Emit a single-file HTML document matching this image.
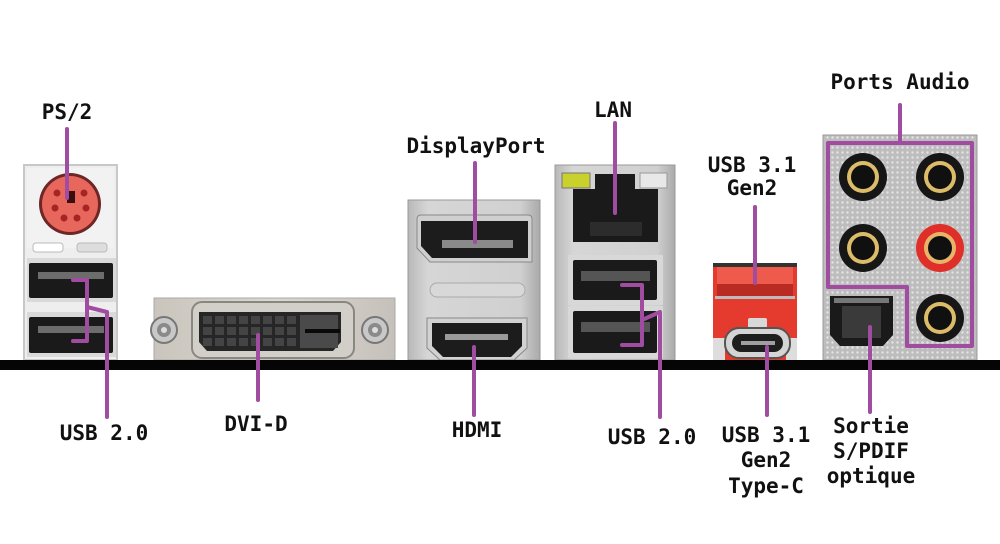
<!DOCTYPE html>
<html><head><meta charset="utf-8"><style>
html,body{margin:0;padding:0;background:#fff;}
svg{display:block;}
text{font-family:"DejaVu Sans Mono","Liberation Mono",monospace;font-weight:bold;font-size:21px;fill:#111;}
</style></head><body>
<svg width="1000" height="544" viewBox="0 0 1000 544" xmlns="http://www.w3.org/2000/svg">
<defs>
<linearGradient id="metal" x1="0" y1="0" x2="1" y2="0">
<stop offset="0" stop-color="#b8b8b8"/><stop offset="0.15" stop-color="#d6d6d6"/><stop offset="0.85" stop-color="#d0d0d0"/><stop offset="1" stop-color="#aaaaaa"/>
</linearGradient>
<linearGradient id="metal2" x1="0" y1="0" x2="1" y2="0">
<stop offset="0" stop-color="#c9c5bd"/><stop offset="0.5" stop-color="#dcd8d1"/><stop offset="1" stop-color="#c5c1ba"/>
</linearGradient>
<pattern id="perf" width="5" height="5" patternUnits="userSpaceOnUse">
<rect width="5" height="5" fill="#bdbdbd"/><circle cx="2.5" cy="2.5" r="1.2" fill="#e4e4e4"/>
</pattern>
</defs>

<!-- PS/2 + USB plate -->
<rect x="24" y="165" width="93" height="195" fill="#eeeeee" stroke="#c8c8c8" stroke-width="2"/>
<rect x="27" y="168" width="87" height="80" fill="#f2f2f2"/>
<circle cx="70" cy="204" r="31" fill="#6e2626"/>
<circle cx="70" cy="204" r="28" fill="#e8675d"/>
<g fill="#a82424">
<circle cx="57" cy="193" r="3.5"/><circle cx="84" cy="193" r="3.5"/>
<circle cx="55" cy="208" r="3.5"/><circle cx="86" cy="208" r="3.5"/>
<circle cx="64" cy="218" r="3.5"/><circle cx="77" cy="218" r="3.5"/>
</g>
<rect x="67" y="191" width="8" height="12" fill="#3a0e0e"/>
<rect x="33" y="243" width="30" height="9" rx="3" fill="#ffffff" stroke="#bbb"/>
<rect x="77" y="243" width="30" height="9" rx="3" fill="#dddddd" stroke="#bbb"/>
<rect x="27" y="258" width="89" height="44" fill="#d9d9d9"/>
<rect x="29" y="263" width="84" height="35" rx="2" fill="#1a1a1a"/>
<rect x="38" y="272" width="66" height="7" fill="#6c6c6c"/>
<rect x="27" y="312" width="89" height="45" fill="#d9d9d9"/>
<rect x="29" y="317" width="84" height="36" rx="2" fill="#1a1a1a"/>
<rect x="38" y="326" width="66" height="7" fill="#6c6c6c"/>

<!-- DVI -->
<rect x="154" y="298" width="241" height="62" fill="url(#metal2)" stroke="#aaa"/>
<circle cx="164" cy="330" r="13" fill="#c8c8c8" stroke="#777" stroke-width="2"/>
<circle cx="164" cy="330" r="7" fill="#8a8a8a"/><circle cx="164" cy="330" r="3" fill="#ddd"/>
<circle cx="375" cy="330" r="13" fill="#c8c8c8" stroke="#777" stroke-width="2"/>
<circle cx="375" cy="330" r="7" fill="#8a8a8a"/><circle cx="375" cy="330" r="3" fill="#ddd"/>
<rect x="192" y="302" width="162" height="56" rx="10" fill="#d2cec8" stroke="#8a8680" stroke-width="2"/>
<path d="M199 312 L341 312 L341 342 L333 351 L207 351 L199 342 Z" fill="#262626"/>
<g fill="#444">
<rect x="203" y="316" width="9" height="8"/><rect x="215" y="316" width="9" height="8"/><rect x="227" y="316" width="9" height="8"/><rect x="239" y="316" width="9" height="8"/><rect x="251" y="316" width="9" height="8"/><rect x="263" y="316" width="9" height="8"/><rect x="275" y="316" width="9" height="8"/><rect x="287" y="316" width="9" height="8"/>
<rect x="203" y="327" width="9" height="8"/><rect x="215" y="327" width="9" height="8"/><rect x="227" y="327" width="9" height="8"/><rect x="239" y="327" width="9" height="8"/><rect x="251" y="327" width="9" height="8"/><rect x="263" y="327" width="9" height="8"/><rect x="275" y="327" width="9" height="8"/><rect x="287" y="327" width="9" height="8"/>
<rect x="203" y="338" width="9" height="8"/><rect x="215" y="338" width="9" height="8"/><rect x="227" y="338" width="9" height="8"/><rect x="239" y="338" width="9" height="8"/><rect x="251" y="338" width="9" height="8"/><rect x="263" y="338" width="9" height="8"/><rect x="275" y="338" width="9" height="8"/><rect x="287" y="338" width="9" height="8"/>
</g>
<rect x="300" y="315" width="38" height="33" fill="#4a4a4a"/>
<rect x="305" y="329" width="35" height="4" fill="#0a0a0a"/>

<!-- DP / HDMI -->
<rect x="408" y="200" width="132" height="160" fill="url(#metal)" stroke="#999"/>
<path d="M417 219 Q417 215 421 215 L528 215 Q532 215 532 219 L532 262 L430 262 L417 248 Z" fill="#cfcfcf" stroke="#888"/>
<path d="M421 221 L528 221 L528 258 L432 258 L421 246 Z" fill="#1c1c1c"/>
<rect x="442" y="240" width="71" height="8" fill="#8a8a8a"/>
<rect x="430" y="283" width="95" height="14" rx="7" fill="#d8d8d8" stroke="#aaa"/>
<path d="M427 318 L527 318 L527 348 L514 360 L440 360 L427 348 Z" fill="#d2d2d2" stroke="#888"/>
<path d="M432 323 L522 323 L522 346 L511 357 L443 357 L432 346 Z" fill="#1c1c1c"/>
<rect x="445" y="334" width="63" height="6" fill="#9a9a9a"/>

<!-- LAN + USB -->
<rect x="555" y="165" width="120" height="195" fill="url(#metal)" stroke="#999"/>
<rect x="562" y="173" width="28" height="15" fill="#c9d22c" stroke="#777"/>
<rect x="640" y="173" width="27" height="15" fill="#e8e8e8" stroke="#999"/>
<path d="M573 189 L595 189 L595 174 L635 174 L635 189 L658 189 L658 242 L573 242 Z" fill="#1a1a1a"/>
<rect x="590" y="222" width="52" height="14" fill="#2c2c2c"/>
<rect x="568" y="255" width="95" height="50" fill="#d8d8d8"/>
<rect x="573" y="260" width="84" height="40" rx="2" fill="#1a1a1a"/>
<rect x="581" y="271" width="69" height="10" fill="#555"/>
<rect x="568" y="306" width="95" height="52" fill="#d8d8d8"/>
<rect x="573" y="311" width="84" height="42" rx="2" fill="#1a1a1a"/>
<rect x="581" y="322" width="69" height="10" fill="#555"/>

<!-- USB 3.1 red -->
<rect x="713" y="263" width="84" height="97" fill="#e53a2e"/>
<rect x="713" y="263" width="84" height="4" fill="#333"/>
<rect x="717" y="267" width="76" height="17" fill="#ee5a4c"/>
<rect x="717" y="284" width="76" height="12" fill="#b82a22"/>
<rect x="715" y="296" width="80" height="3" fill="#bbb"/>
<rect x="748" y="318" width="19" height="10" rx="2" fill="#d8d8d8"/>
<rect x="713" y="338" width="12" height="22" fill="#dddddd"/>
<rect x="786" y="338" width="11" height="22" fill="#dddddd"/>
<rect x="725" y="328" width="65" height="30" rx="14" fill="#d4d4d4" stroke="#555" stroke-width="2"/>
<rect x="732" y="334" width="51" height="18" rx="9" fill="#1e1e1e"/>
<rect x="741" y="341" width="34" height="4" fill="#a0a0a0"/>

<!-- Audio -->
<rect x="823" y="135" width="154" height="225" fill="url(#perf)" stroke="#999"/>
<g>
<circle cx="863" cy="177" r="24" fill="#161616"/><circle cx="863" cy="177" r="16" fill="#dcbc68"/><circle cx="863" cy="177" r="12" fill="#101010"/>
<circle cx="940" cy="177" r="24" fill="#161616"/><circle cx="940" cy="177" r="16" fill="#dcbc68"/><circle cx="940" cy="177" r="12" fill="#101010"/>
<circle cx="863" cy="248" r="24" fill="#161616"/><circle cx="863" cy="248" r="16" fill="#dcbc68"/><circle cx="863" cy="248" r="12" fill="#101010"/>
<circle cx="940" cy="248" r="24" fill="#e02e28"/><circle cx="940" cy="248" r="16" fill="#e8b46a"/><circle cx="940" cy="248" r="12" fill="#101010"/>
<circle cx="940" cy="318" r="24" fill="#161616"/><circle cx="940" cy="318" r="16" fill="#dcbc68"/><circle cx="940" cy="318" r="12" fill="#101010"/>
</g>
<path d="M830 296 L893 296 L893 335 L883 346 L840 346 L830 335 Z" fill="#1a1a1a"/>
<rect x="834" y="298" width="55" height="5" fill="#777"/>
<path d="M842 306 L881 306 L881 338 L842 338 Z" fill="#3a3a3a"/>

<!-- black bar -->
<rect x="0" y="360" width="1000" height="10" fill="#050505"/>

<!-- purple leader lines -->
<g stroke="#a04ca0" stroke-width="4" fill="none" stroke-linecap="round" stroke-linejoin="round">
<line x1="67" y1="129" x2="67" y2="198"/>
<polyline points="73,280 87,280 87,341 73,341"/>
<polyline points="87,307 107,312 107,417"/>
<line x1="258" y1="335" x2="258" y2="400"/>
<line x1="475" y1="163" x2="475" y2="242"/>
<line x1="474" y1="347" x2="474" y2="415"/>
<line x1="615" y1="123" x2="615" y2="213"/>
<polyline points="622,285 642,285 642,345 622,345"/>
<polyline points="642,320 660,312 660,417"/>
<line x1="755" y1="207" x2="755" y2="283"/>
<line x1="767" y1="347" x2="767" y2="415"/>
<line x1="900" y1="105" x2="900" y2="143"/>
<polygon points="828,143 972,143 972,346 907,346 907,287 828,287"/>
<line x1="870" y1="327" x2="870" y2="412"/>
</g>

<!-- labels -->
<g text-anchor="middle">
<text x="67" y="119">PS/2</text>
<text x="104" y="440">USB 2.0</text>
<text x="256" y="431">DVI-D</text>
<text x="477" y="437">HDMI</text>
<text x="476" y="153">DisplayPort</text>
<text x="613" y="117">LAN</text>
<text x="752" y="172">USB 3.1</text>
<text x="752" y="195">Gen2</text>
<text x="652" y="444">USB 2.0</text>
<text x="766" y="442">USB 3.1</text>
<text x="766" y="467">Gen2</text>
<text x="766" y="493">Type-C</text>
<text x="900" y="89">Ports Audio</text>
<text x="871" y="433">Sortie</text>
<text x="871" y="458">S/PDIF</text>
<text x="871" y="483">optique</text>
</g>
</svg>
</body></html>
